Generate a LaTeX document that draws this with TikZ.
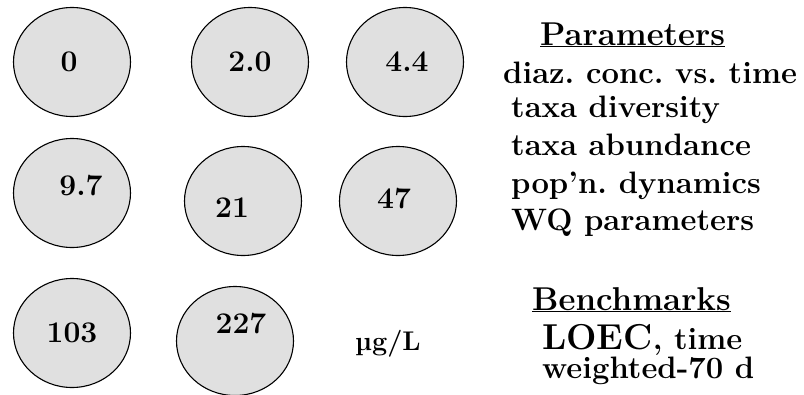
\documentclass[tikz,border=0pt]{standalone}
\usepackage{fontspec}
\usetikzlibrary{shapes.geometric}
\definecolor{dish}{HTML}{E0E0E0}
\frenchspacing
\tikzset{
  dose/.style={ellipse, draw=black, line width=1.1pt, fill=dish,
    minimum width=117pt, minimum height=109pt, inner sep=0pt},
  conc/.style={anchor=base, inner sep=0pt, font=\bfseries\fontsize{30}{30}\selectfont},
  head/.style={anchor=base west, inner sep=0pt, font=\bfseries\fontsize{33}{33}\selectfont},
  item/.style={anchor=base west, inner sep=0pt, font=\bfseries\fontsize{31}{31}\selectfont},
  unit/.style={anchor=base west, inner sep=0pt, font=\bfseries\fontsize{27}{27}\selectfont}
}
\begin{document}
\begin{tikzpicture}[x=1pt, y=-1pt]
\useasboundingbox (0,0) rectangle (804,394);

% exposure chambers
\node[dose] (e1) at (72,62) {};
\node[dose] (e2) at (250,62) {};
\node[dose] (e3) at (405,62) {};
\node[dose] (e4) at (72,193) {};
\node[dose] (e5) at (243,201) {};
\node[dose] (e6) at (398,201) {};
\node[dose] (e7) at (72,333) {};
\node[dose] (e8) at (235,341) {};

% nominal concentrations
\node[conc] (c1) at (69,71) {0};
\node[conc] (c2) at (250,71) {2.0};
\node[conc] (c3) at (407,71) {4.4};
\node[conc] (c4) at (81,195) {9.7};
\node[conc] (c5) at (232,217) {21};
\node[conc] (c6) at (394,208) {47};
\node[conc] (c7) at (72,342) {103};
\node[conc] (c8) at (241,333) {227};
\node[unit] (u) at (355,350) {µg/L};

% measured parameters
\node[head] (ph) at (540,45) {\underline{Parameters}};
\node[item] (p1) at (503,83) {diaz. conc. vs. time};
\node[item] (p2) at (511,117) {taxa diversity};
\node[item] (p3) at (511,155) {taxa abundance};
\node[item] (p4) at (511,193) {pop'n. dynamics};
\node[item] (p5) at (511,230) {WQ parameters};

% benchmarks
\node[head] (bh) at (532,310) {\underline{Benchmarks}};
\node[item] (b1) at (542,349) {{\fontsize{36}{36}\selectfont LOEC}, time};
\node[item] (b2) at (542,378) {weighted-70 d};
\end{tikzpicture}
\end{document}
